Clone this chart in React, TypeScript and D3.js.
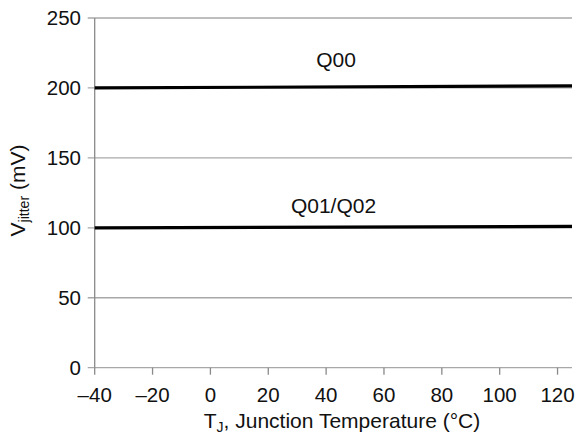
import React from "react";
import * as d3 from "d3";

const temps = [-40, 125];
const q00 = [200, 201.5];
const q0102 = [100, 101];
const xTicks = [-40, -20, 0, 20, 40, 60, 80, 100, 120];
const yTicks = [0, 50, 100, 150, 200, 250];
const seriesLabels = ["Q00", "Q01/Q02"];

const W = 579;
const H = 440;
const m = { left: 94.7, right: 7, top: 18, bottom: 72.3 };
const FONT = "'Liberation Sans', Arial, Helvetica, sans-serif";
const FS = 20.5;

export default function App() {
  const x = d3.scaleLinear().domain([-40, 125]).range([m.left, W - m.right]);
  const y = d3.scaleLinear().domain([0, 250]).range([H - m.bottom, m.top]);
  const line = d3
    .line<number>()
    .x((_, i) => x(temps[i]))
    .y((d) => y(d));
  const y0 = y(0);

  return (
    <svg
      width={W}
      height={H}
      style={{ position: "absolute", left: 0, top: 0, background: "#fff" }}
      fontFamily={FONT}
    >
      {yTicks.map((t) => (
        <g key={"y" + t}>
          <line x1={x(-40) - 7} x2={x(125)} y1={y(t)} y2={y(t)} stroke="#a8a8a8" strokeWidth={1.3} />
          <text x={81} y={y(t) + 7.4} textAnchor="end" fontSize={FS} fill="#111">
            {t}
          </text>
        </g>
      ))}
      <line x1={x(-40)} x2={x(-40)} y1={m.top} y2={y0} stroke="#8a8a8a" strokeWidth={1.3} />
      {xTicks.map((t) => (
        <g key={"x" + t}>
          <line x1={x(t)} x2={x(t)} y1={y0} y2={y0 + 7} stroke="#8a8a8a" strokeWidth={1.3} />
          <text x={x(t)} y={401.8} textAnchor="middle" fontSize={FS} fill="#111">
            {t < 0 ? "\u2013" + Math.abs(t) : t}
          </text>
        </g>
      ))}
      <path d={line(q00) || ""} fill="none" stroke="#000" strokeWidth={3.2} />
      <path d={line(q0102) || ""} fill="none" stroke="#000" strokeWidth={3.2} />
      <text x={336} y={66.5} textAnchor="middle" fontSize={21} fill="#111">
        {seriesLabels[0]}
      </text>
      <text x={333.5} y={212.5} textAnchor="middle" fontSize={21} fill="#111">
        {seriesLabels[1]}
      </text>
      <text x={342} y={427.5} textAnchor="middle" fontSize={21} fill="#111">
        T<tspan fontSize={14} dy={4}>J</tspan>
        <tspan dy={-4}>, Junction Temperature (°C)</tspan>
      </text>
      <text
        transform={`translate(25, 190.5) rotate(-90)`}
        textAnchor="middle"
        fontSize={21}
        fill="#111"
      >
        V<tspan fontSize={14} dy={4}>jitter</tspan>
        <tspan dy={-4}> (mV)</tspan>
      </text>
    </svg>
  );
}
